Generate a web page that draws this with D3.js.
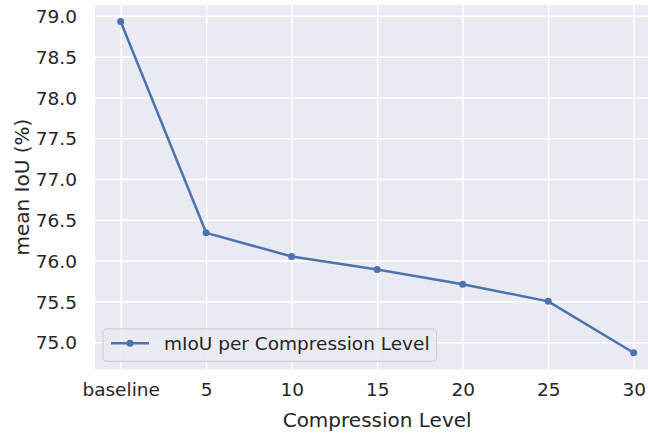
<!DOCTYPE html>
<html>
<head>
<meta charset="utf-8">
<script src="https://cdn.jsdelivr.net/npm/d3@7"></script>
<style>
    html, body { margin: 0; padding: 0; background: #ffffff; }
    svg { display: block; }
    svg text { font-family: 'DejaVu Sans', sans-serif; fill: #262626; }
</style>
</head>
<body>
<div id="chart"></div>
<script>
// Datos
let levels = ['baseline', '5', '10', '15', '20', '25', '30'];
let miou = [78.93, 76.34, 76.05, 75.89, 75.71, 75.50, 74.87];
let yTicks = [75.0, 75.5, 76.0, 76.5, 77.0, 77.5, 78.0, 78.5, 79.0];
let seriesName = 'mIoU per Compression Level';

let W = 648, H = 434;
let margin = {top: 5, left: 95};
let plotW = 564.3, plotH = 364.3;
let fontTick = '18.5px', fontLabel = '20px';

let svg = d3.select('#chart')
    .append('svg')
    .attr('width', W)
    .attr('height', H);

let chart = svg.append('g')
    .attr('transform', 'translate(' + margin.left + ',' + margin.top + ')');

// Fondo estilo seaborn
chart.append('rect')
    .attr('width', plotW)
    .attr('height', plotH)
    .attr('fill', '#EAEAF2');

// Eje X
let x = d3.scalePoint()
    .domain(levels)
    .range([0, plotW])
    .padding(0.3);

// Eje Y (margen del 5%)
let ext = d3.extent(miou), pad = (ext[1] - ext[0]) * 0.05;
let y = d3.scaleLinear()
    .domain([ext[0] - pad, ext[1] + pad])
    .range([plotH, 0]);

chart.append('g')
    .attr('transform', 'translate(0,' + plotH + ')')
    .call(d3.axisBottom(x).tickSize(0).tickPadding(0))
    .call(function(g) {
        g.attr('font-family', null).attr('font-size', null);
        g.select('.domain').remove();
        g.selectAll('.tick line').remove();
        g.selectAll('.tick').append('line')
            .attr('y1', 0).attr('y2', -plotH)
            .attr('stroke', '#ffffff').attr('stroke-width', 1.5);
        g.selectAll('.tick text')
            .attr('font-size', fontTick)
            .attr('fill', null)
            .attr('dy', null)
            .attr('y', 27);
    });

chart.append('g')
    .call(d3.axisLeft(y).tickValues(yTicks).tickFormat(d3.format('.1f')).tickSize(0).tickPadding(18))
    .call(function(g) {
        g.attr('font-family', null).attr('font-size', null);
        g.select('.domain').remove();
        g.selectAll('.tick').append('line')
            .attr('x1', 0).attr('x2', plotW)
            .attr('stroke', '#ffffff').attr('stroke-width', 1.5);
        g.selectAll('.tick text')
            .attr('font-size', fontTick)
            .attr('fill', null)
            .attr('dy', '0.36em');
    });

// Línea
let line = d3.line()
    .x((d, i) => x(levels[i]))
    .y(d => y(d));

chart.append('path')
    .datum(miou)
    .attr('fill', 'none')
    .attr('stroke', '#4C72B0')
    .attr('stroke-width', 2.5)
    .attr('stroke-linejoin', 'round')
    .attr('d', line);

chart.selectAll('.dot')
    .data(miou)
    .enter()
    .append('circle')
    .attr('class', 'dot')
    .attr('cx', (d, i) => x(levels[i]))
    .attr('cy', d => y(d))
    .attr('r', 3.5)
    .attr('fill', '#4C72B0');

// Leyenda
let legend = chart.append('g')
    .attr('transform', 'translate(8,' + (plotH - 40.5) + ')');

legend.append('rect')
    .attr('width', 333.5)
    .attr('height', 32.5)
    .attr('rx', 4)
    .attr('fill', '#EAEAF2')
    .attr('fill-opacity', 0.8)
    .attr('stroke', '#cccccc')
    .attr('stroke-width', 1);

legend.append('line')
    .attr('x1', 8).attr('x2', 46)
    .attr('y1', 14.5).attr('y2', 14.5)
    .attr('stroke', '#4C72B0')
    .attr('stroke-width', 2.5);

legend.append('circle')
    .attr('cx', 27).attr('cy', 14.5)
    .attr('r', 3.5)
    .attr('fill', '#4C72B0');

legend.append('text')
    .attr('x', 61)
    .attr('y', 14.5)
    .attr('dy', '0.36em')
    .attr('font-size', fontTick)
    .text(seriesName);

// Títulos de los ejes
svg.append('text')
    .attr('x', margin.left + plotW / 2)
    .attr('y', 427)
    .attr('text-anchor', 'middle')
    .attr('font-size', fontLabel)
    .text('Compression Level');

svg.append('text')
    .attr('transform', 'translate(29,' + (margin.top + plotH / 2) + ') rotate(-90)')
    .attr('text-anchor', 'middle')
    .attr('font-size', fontLabel)
    .text('mean IoU (%)');
</script>
</body>
</html>
